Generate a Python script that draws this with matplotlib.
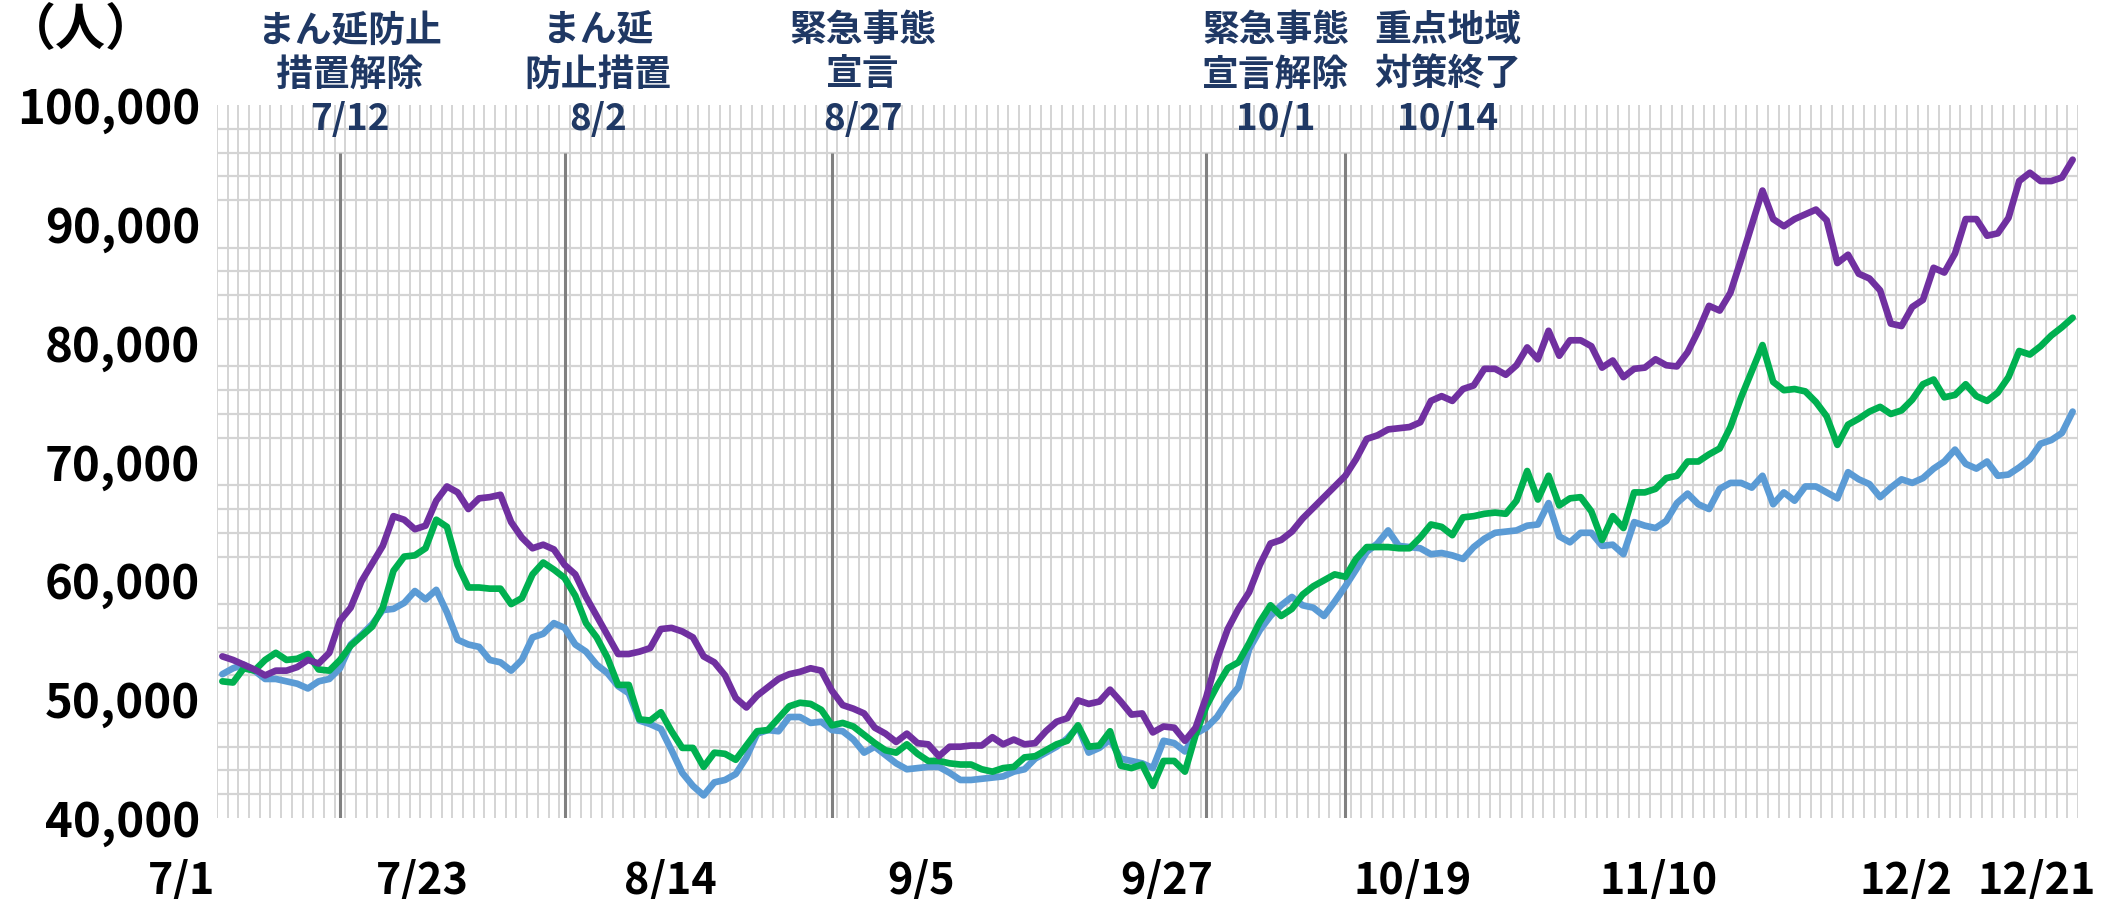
import matplotlib
matplotlib.use("Agg")
import matplotlib.pyplot as plt
import matplotlib.transforms as mtransforms
import numpy as np

plt.rcParams["font.family"] = ["Noto Sans CJK JP", "DejaVu Sans"]

# ---------------------------------------------------------------------------
# Data (千人, 7/1 - 12/21 daily)
# ---------------------------------------------------------------------------

purple_k = [
    53.6, 53.3, 52.9, 52.5, 52.0, 52.4, 52.4, 52.7, 53.3, 53.0,
    53.9, 56.6, 57.7, 59.9, 61.4, 62.9, 65.4, 65.1, 64.3, 64.6,
    66.7, 67.9, 67.4, 66.0, 66.9, 67.0, 67.2, 64.9, 63.6, 62.7,
    63.0, 62.6, 61.3, 60.5, 58.6, 57.0, 55.4, 53.8, 53.8, 54.0,
    54.3, 55.9, 56.0, 55.7, 55.2, 53.6, 53.1, 52.0, 50.1, 49.3,
    50.3, 51.0, 51.7, 52.1, 52.3, 52.6, 52.4, 50.7, 49.5, 49.2,
    48.8, 47.6, 47.1, 46.4, 47.1, 46.3, 46.2, 45.2, 46.0, 46.0,
    46.1, 46.1, 46.8, 46.2, 46.6, 46.2, 46.3, 47.3, 48.1, 48.4,
    49.9, 49.6, 49.8, 50.8, 49.8, 48.7, 48.8, 47.2, 47.7, 47.6,
    46.5, 47.6, 50.2, 53.4, 55.9, 57.6, 59.0, 61.3, 63.1, 63.4,
    64.1, 65.2, 66.1, 67.0, 67.9, 68.8, 70.2, 71.9, 72.2, 72.7,
    72.8, 72.9, 73.3, 75.1, 75.5, 75.1, 76.1, 76.4, 77.8, 77.8,
    77.3, 78.1, 79.6, 78.6, 81.0, 78.9, 80.2, 80.2, 79.7, 77.9,
    78.5, 77.1, 77.8, 77.9, 78.6, 78.1, 78.0, 79.2, 81.0, 83.1,
    82.7, 84.2, 87.0, 89.9, 92.8, 90.4, 89.8, 90.4, 90.8, 91.2,
    90.3, 86.7, 87.4, 85.8, 85.4, 84.4, 81.6, 81.4, 83.0, 83.6,
    86.3, 85.9, 87.5, 90.4, 90.4, 89.0, 89.2, 90.5, 93.6, 94.3,
    93.6, 93.6, 93.9, 95.4,
]

green_k = [
    51.5, 51.4, 52.6, 52.4, 53.3, 53.9, 53.3, 53.4, 53.8, 52.5,
    52.4, 53.3, 54.5, 55.3, 56.1, 57.7, 60.8, 62.0, 62.1, 62.7,
    65.1, 64.5, 61.3, 59.4, 59.4, 59.3, 59.3, 58.0, 58.5, 60.5,
    61.5, 60.9, 60.2, 58.7, 56.4, 55.2, 53.5, 51.2, 51.2, 48.3,
    48.2, 48.9, 47.3, 45.9, 45.9, 44.3, 45.5, 45.4, 44.9, 46.1,
    47.3, 47.4, 48.4, 49.4, 49.7, 49.6, 49.1, 47.8, 48.0, 47.7,
    47.0, 46.3, 45.7, 45.5, 46.2, 45.4, 44.8, 44.8, 44.6, 44.5,
    44.5, 44.1, 43.9, 44.2, 44.3, 45.1, 45.2, 45.7, 46.2, 46.5,
    47.8, 46.0, 46.1, 47.3, 44.4, 44.2, 44.5, 42.7, 44.8, 44.8,
    43.9, 47.0, 49.4, 51.1, 52.6, 53.1, 54.7, 56.5, 57.9, 57.0,
    57.6, 58.8, 59.5, 60.0, 60.5, 60.3, 61.8, 62.8, 62.8, 62.8,
    62.7, 62.7, 63.6, 64.7, 64.5, 63.8, 65.3, 65.4, 65.6, 65.7,
    65.6, 66.7, 69.2, 66.8, 68.8, 66.3, 66.9, 67.0, 65.8, 63.4,
    65.4, 64.4, 67.4, 67.4, 67.7, 68.6, 68.8, 70.0, 70.0, 70.6,
    71.1, 72.9, 75.4, 77.6, 79.8, 76.7, 76.0, 76.1, 75.9, 75.0,
    73.8, 71.4, 73.1, 73.6, 74.2, 74.6, 74.0, 74.3, 75.2, 76.5,
    76.9, 75.4, 75.6, 76.5, 75.5, 75.1, 75.8, 77.1, 79.3, 79.0,
    79.7, 80.6, 81.3, 82.1,
]

blue_k = [
    52.1, 52.6, 52.9, 52.4, 51.7, 51.7, 51.5, 51.3, 50.9, 51.5,
    51.7, 52.6, 54.6, 55.4, 56.3, 57.5, 57.6, 58.1, 59.1, 58.4,
    59.2, 57.3, 55.0, 54.6, 54.4, 53.3, 53.1, 52.4, 53.3, 55.2,
    55.5, 56.4, 56.0, 54.6, 54.0, 52.9, 52.2, 51.1, 50.5, 48.2,
    47.9, 47.5, 45.7, 43.8, 42.7, 41.9, 43.0, 43.2, 43.7, 45.1,
    47.1, 47.4, 47.3, 48.5, 48.5, 48.0, 48.1, 47.4, 47.3, 46.6,
    45.5, 46.0, 45.3, 44.6, 44.1, 44.2, 44.3, 44.3, 43.8, 43.2,
    43.2, 43.3, 43.4, 43.5, 43.9, 44.1, 45.0, 45.5, 46.0, 46.7,
    47.7, 45.5, 45.9, 46.6, 45.0, 44.8, 44.6, 44.2, 46.5, 46.3,
    45.6, 47.1, 47.6, 48.5, 49.9, 51.0, 54.2, 55.8, 57.0, 57.9,
    58.6, 57.9, 57.7, 57.0, 58.2, 59.5, 60.9, 62.4, 63.1, 64.2,
    62.9, 62.8, 62.7, 62.2, 62.3, 62.1, 61.8, 62.8, 63.5, 64.0,
    64.1, 64.2, 64.6, 64.7, 66.5, 63.7, 63.2, 64.0, 64.0, 62.9,
    63.0, 62.2, 64.9, 64.6, 64.4, 65.0, 66.5, 67.3, 66.4, 66.0,
    67.7, 68.2, 68.2, 67.8, 68.8, 66.4, 67.4, 66.7, 67.9, 67.9,
    67.4, 66.9, 69.1, 68.5, 68.1, 67.0, 67.8, 68.5, 68.2, 68.6,
    69.4, 70.0, 71.0, 69.8, 69.4, 70.0, 68.8, 68.9, 69.5, 70.2,
    71.5, 71.8, 72.4, 74.2,
]

# x-axis date labels and their day index from 7/1
date_labels = ["7/1", "7/23", "8/14", "9/5", "9/27", "10/19", "11/10", "12/2", "12/21"]
date_days   = [0, 22, 44, 66, 88, 110, 132, 154, 173]

# policy events: day index from 7/1 and caption
event_days   = [11, 32, 57, 92, 105]
event_labels = [
    "まん延防止\n措置解除\n7/12",
    "まん延\n防止措置\n8/2",
    "緊急事態\n宣言\n8/27",
    "緊急事態\n宣言解除\n10/1",
    "重点地域\n対策終了\n10/14",
]

y_ticks = [40000, 50000, 60000, 70000, 80000, 90000, 100000]

# ---------------------------------------------------------------------------
# Layout
# ---------------------------------------------------------------------------

W, H = 2114, 899
AX_L, AX_R, AX_T, AX_B = 217, 2078, 105, 818

# caption / date-label placement (in day units, Excel-like offsets)
caption_x = [11.9, 35.1, 59.9, 98.5, 114.6]
date_lbl_x = [-3.8, 18.7, 41.9, 65.3, 88.3, 111.3, 134.3, 157.4, 169.6]

NAVY = "#1F3864"
GRID = "#D4D4D4"

fig = plt.figure(figsize=(W / 100, H / 100), dpi=100)
ax = fig.add_axes([AX_L / W, 1 - AX_B / H, (AX_R - AX_L) / W, (AX_B - AX_T) / H])

days = np.arange(len(purple_k))
ax.set_xlim(-0.5, len(days) - 0.5)
ax.set_ylim(y_ticks[0], y_ticks[-1])

# grid: one cell per day, 2,000 per row
ax.set_xticks([])
ax.set_xticks(np.arange(-0.5, len(days), 1), minor=True)
ax.set_yticks(y_ticks)
ax.set_yticks(np.arange(y_ticks[0], y_ticks[-1] + 1, 2000), minor=True)
ax.grid(which="minor", axis="x", color=GRID, linewidth=1.4)
ax.grid(which="minor", axis="y", color=GRID, linewidth=1.6)
ax.tick_params(which="both", length=0)
ax.set_axisbelow(True)
for s in ax.spines.values():
    s.set_visible(False)

ax.set_yticklabels([f"{v:,}" for v in y_ticks], fontsize=34, fontweight="bold")
ax.tick_params(axis="y", pad=12)

# event markers
ax.vlines(event_days, y_ticks[0], 96000, color="#808080", linewidth=2.2, zorder=2)

# series
for vals, col in [(blue_k, "#5B9BD5"), (green_k, "#00B050"), (purple_k, "#7030A0")]:
    ax.plot(days, np.array(vals) * 1000, color=col, linewidth=4.8,
            solid_joinstyle="round", solid_capstyle="round", zorder=3)

# date labels under the axis
trans = mtransforms.blended_transform_factory(ax.transData, ax.transAxes)
for xp, lbl in zip(date_lbl_x, date_labels):
    ax.text(xp, -0.088, lbl, transform=trans, ha="center", va="center",
            fontsize=31, fontweight="bold", clip_on=False)

# event captions
cap_trans = mtransforms.blended_transform_factory(ax.transData, fig.transFigure)
for xp, lbl in zip(caption_x, event_labels):
    ax.text(xp, 1 - 75 / H, lbl, transform=cap_trans,
            ha="center", va="center", fontsize=26.5, fontweight="bold",
            color=NAVY, linespacing=1.25, clip_on=False, zorder=5)

fig.text(81 / W, 1 - 30 / H, "（人）", ha="center", va="center",
         fontsize=36, fontweight="bold")

fig.savefig("out.png", dpi=100)
